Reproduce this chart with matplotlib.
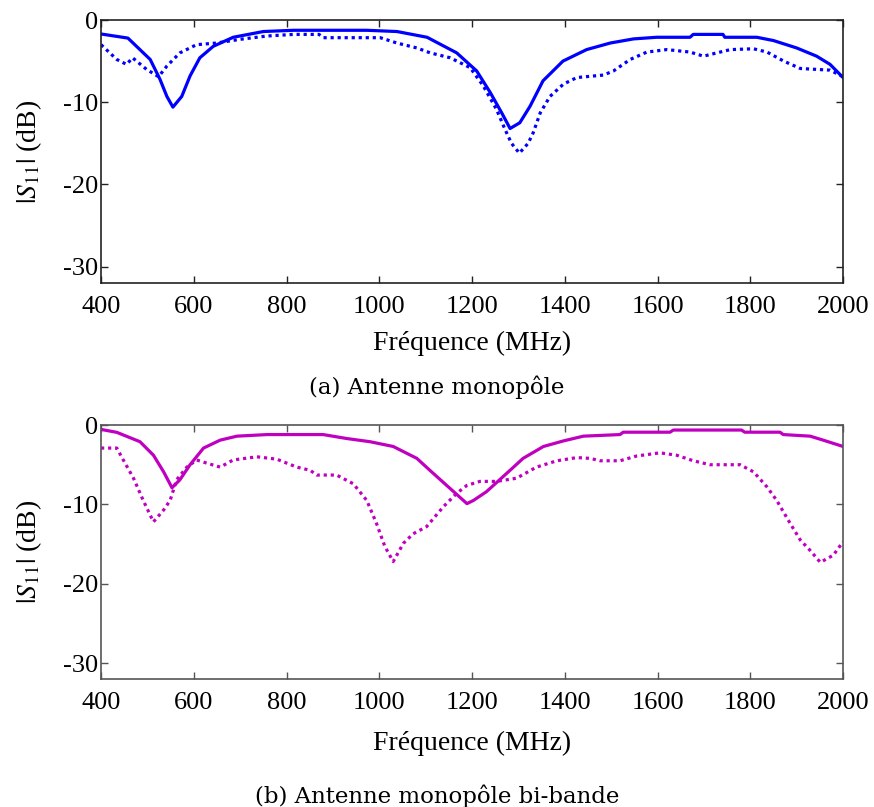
import numpy as np
import matplotlib
matplotlib.use("Agg")
import matplotlib.pyplot as plt

plt.rcParams['font.family'] = ['Liberation Serif', 'DejaVu Serif']
plt.rcParams['mathtext.fontset'] = 'stix'

# (a) monopole - solid
fa_sol = [400, 458, 506, 527, 542, 555, 574, 592, 613, 642, 685, 750, 815, 973, 1038, 1103,
          1167, 1210, 1239, 1264, 1282, 1303, 1325, 1353, 1396, 1447, 1498, 1548, 1598,
          1670, 1677, 1741, 1745, 1814, 1850, 1900, 1943, 1972, 2000]
sa_sol = [-1.7, -2.2, -4.8, -7.2, -9.3, -10.6, -9.3, -6.8, -4.6, -3.2, -2.1, -1.4, -1.25, -1.25,
          -1.4, -2.1, -4.0, -6.2, -8.8, -11.3, -13.2, -12.5, -10.5, -7.4, -5.0, -3.6, -2.8,
          -2.3, -2.1, -2.1, -1.75, -1.75, -2.1, -2.1, -2.5, -3.4, -4.4, -5.4, -7.0]
# (a) monopole - dotted
fa_dot = [400, 434, 455, 468, 498, 524, 542, 570, 606, 649, 700, 757, 815, 870, 879, 1002,
          1038, 1081, 1110, 1153, 1196, 1224, 1253, 1271, 1285, 1302, 1321, 1332, 1347, 1368,
          1397, 1426, 1483, 1505, 1541, 1577, 1620, 1670, 1699, 1735, 1757, 1807, 1836, 1872,
          1908, 1972, 2000]
sa_dot = [-3.0, -4.8, -5.4, -4.6, -6.0, -6.9, -5.6, -4.0, -3.0, -2.8, -2.35, -1.95, -1.75, -1.75,
          -2.15, -2.15, -2.8, -3.4, -4.0, -4.6, -5.8, -8.0, -10.9, -13.3, -15.0, -16.2, -15.0,
          -13.7, -11.3, -9.3, -7.8, -7.0, -6.7, -6.2, -4.8, -3.9, -3.6, -3.9, -4.4, -3.9, -3.6,
          -3.5, -3.9, -5.0, -5.9, -6.1, -6.9]

# (b) dual-band monopole - solid
fb_sol = [400, 434, 484, 513, 535, 553, 570, 592, 621, 657, 693, 758, 879, 930, 980, 1030, 1081,
          1109, 1189, 1203, 1231, 1282, 1310, 1354, 1397, 1440, 1519, 1526, 1627, 1634, 1781,
          1788, 1864, 1871, 1929, 1957, 2000]
sb_sol = [-0.55, -0.92, -2.1, -3.8, -5.9, -7.9, -6.9, -5.0, -2.9, -1.9, -1.4, -1.2, -1.2, -1.7,
          -2.1, -2.7, -4.2, -5.7, -9.9, -9.5, -8.4, -5.7, -4.2, -2.7, -2.0, -1.4, -1.2, -0.9,
          -0.9, -0.63, -0.63, -0.9, -0.9, -1.2, -1.4, -1.9, -2.7]
# (b) dual-band monopole - dotted
fb_dot = [400, 434, 448, 470, 491, 513, 535, 549, 563, 585, 606, 628, 657, 685, 736, 779, 822,
          851, 865, 908, 944, 973, 994, 1012, 1030, 1052, 1073, 1102, 1138, 1167, 1189, 1217,
          1253, 1296, 1339, 1383, 1426, 1455, 1476, 1519, 1555, 1605, 1641, 1677, 1713, 1778,
          1807, 1836, 1857, 1886, 1908, 1929, 1951, 1979, 2000]
sb_dot = [-2.9, -2.9, -4.4, -6.7, -9.5, -12.2, -10.7, -9.5, -6.9, -5.3, -4.4, -4.8, -5.3, -4.4,
          -4.0, -4.3, -5.3, -5.7, -6.3, -6.3, -7.4, -9.5, -12.4, -15.3, -17.2, -14.9, -13.7,
          -12.8, -10.3, -8.6, -7.6, -7.1, -7.1, -6.7, -5.3, -4.5, -4.1, -4.2, -4.5, -4.5, -3.9,
          -3.5, -3.8, -4.5, -5.0, -5.0, -5.9, -7.8, -9.5, -12.4, -14.5, -15.8, -17.3, -16.4, -14.7]

xticks = [400, 600, 800, 1000, 1200, 1400, 1600, 1800, 2000]
yticks = [0, -10, -20, -30]

fig = plt.figure(figsize=(8.74, 8.07), dpi=100)
ax1 = fig.add_axes([0.1156, 0.6493, 0.849, 0.3259])
ax2 = fig.add_axes([0.1156, 0.1586, 0.849, 0.3147])

blue = '#0000ff'
mag = '#c000c0'
ax1.plot(fa_sol, sa_sol, color=blue, lw=2.3)
ax1.plot(fa_dot, sa_dot, color=blue, lw=2.3, ls=(0, (1, 1.2)))
ax2.plot(fb_sol, sb_sol, color=mag, lw=2.3)
ax2.plot(fb_dot, sb_dot, color=mag, lw=2.3, ls=(0, (1, 1.2)))

# label positions in axes coords (ylabel x, xlabel y)
label_pos = {ax1: -0.228, ax2: -0.252}

for ax, ec in [(ax1, '#222222'), (ax2, '#555555')]:
    ax.set_xlim(400, 2000)
    ax.set_ylim(-32, 0)
    ax.set_xticks(xticks)
    ax.set_yticks(yticks)
    ax.set_yticklabels(['0', '-10', '-20', '-30'])
    ax.tick_params(direction='in', top=True, right=True, length=5, width=1,
                   colors=ec, labelcolor='black', labelsize=19)
    ax.tick_params(axis='x', pad=9)
    ax.tick_params(axis='y', pad=2)
    for s in ax.spines.values():
        s.set_color(ec)
        s.set_linewidth(1.2)
    ax.set_xlabel('Fréquence (MHz)', fontsize=20, va='center')
    ax.set_ylabel(r'$|S_{11}|$ (dB)', fontsize=20, va='center', ha='center')
    ax.xaxis.set_label_coords(0.5, label_pos[ax])
    ax.yaxis.set_label_coords(-0.097, 0.5)

fig.text(0.5, 1 - 387 / 807, '(a) Antenne monopôle', ha='center', va='center',
         fontsize=16.5, family='DejaVu Serif')
fig.text(0.5, 1 - 796 / 807, '(b) Antenne monopôle bi-bande', ha='center', va='center',
         fontsize=16.5, family='DejaVu Serif')

fig.savefig('out.png', dpi=100)
